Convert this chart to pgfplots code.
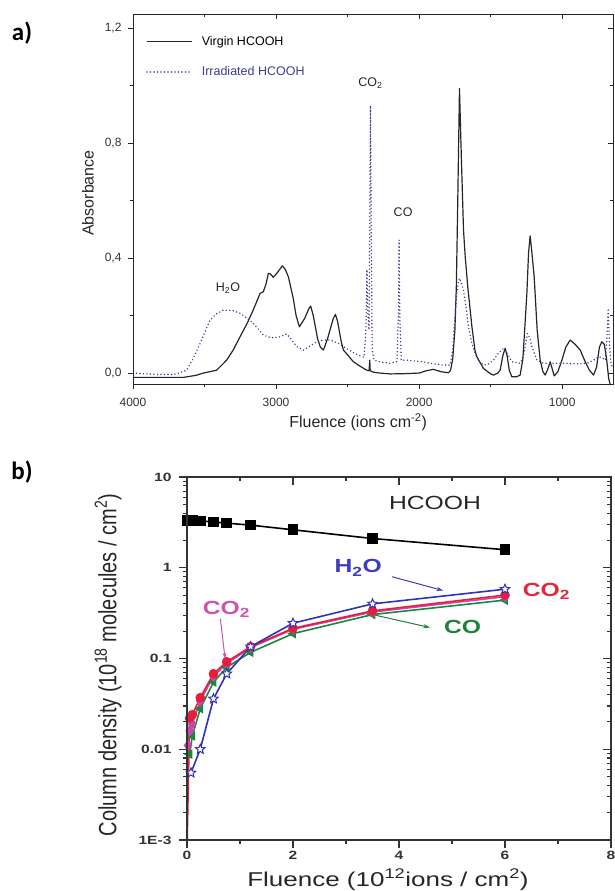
\documentclass[border=0pt]{standalone}
\usepackage{fontspec}
\setmainfont{Liberation Sans}
\newfontfamily\widefont[FakeStretch=1.3]{Liberation Sans}
\newfontfamily\panelfont{Carlito}
\usepackage{pgfplots}
\pgfplotsset{compat=1.18}
\usetikzlibrary{arrows.meta,plotmarks}
\definecolor{irrblue}{RGB}{60,60,150}
\definecolor{hblue}{RGB}{50,50,185}
\definecolor{cred}{RGB}{228,30,60}
\definecolor{cmag}{RGB}{200,70,175}
\definecolor{cgreen}{RGB}{25,135,60}
\definecolor{lblue}{RGB}{60,60,190}
\definecolor{lpink}{RGB}{205,85,175}
\definecolor{lred}{RGB}{225,40,60}
\definecolor{lgreen}{RGB}{30,130,60}

\pgfdeclareplotmark{ostar}{%
  \pgfpathmoveto{\pgfqpointpolar{90}{\pgfplotmarksize}}%
  \pgfpathlineto{\pgfqpointpolar{126}{0.45\pgfplotmarksize}}%
  \pgfpathlineto{\pgfqpointpolar{162}{\pgfplotmarksize}}%
  \pgfpathlineto{\pgfqpointpolar{198}{0.45\pgfplotmarksize}}%
  \pgfpathlineto{\pgfqpointpolar{234}{\pgfplotmarksize}}%
  \pgfpathlineto{\pgfqpointpolar{270}{0.45\pgfplotmarksize}}%
  \pgfpathlineto{\pgfqpointpolar{306}{\pgfplotmarksize}}%
  \pgfpathlineto{\pgfqpointpolar{342}{0.45\pgfplotmarksize}}%
  \pgfpathlineto{\pgfqpointpolar{18}{\pgfplotmarksize}}%
  \pgfpathlineto{\pgfqpointpolar{54}{0.45\pgfplotmarksize}}%
  \pgfpathclose
  \pgfusepathqfillstroke}

\pgfplotsset{
  panelA/.style={scale only axis, width=480pt, height=370pt,
    x dir=reverse, xmin=645, xmax=4000, ymin=-0.038, ymax=1.249,
    xtick={4000,3000,2000,1000}, minor xtick={3500,2500,1500},
    ytick={0,0.4,0.8,1.2}, minor ytick={0.2,0.6,1.0},
    major tick length=5pt, minor tick length=3pt,
    axis line style={line width=0.9pt, black!85},
    every tick/.style={line width=0.9pt, black!85}},
  panelB/.style={scale only axis, width=424pt, height=363pt,
    xmin=0, xmax=8, ymin=1e-3, ymax=10,
    xtick={0,2,4,6,8}, minor xtick={1,3,5,7},
    ytick={1e-3,1e-2,0.1,1,10},
    minor ytick={2e-3,3e-3,4e-3,5e-3,6e-3,7e-3,8e-3,9e-3,2e-2,3e-2,4e-2,5e-2,6e-2,7e-2,8e-2,9e-2,0.2,0.3,0.4,0.5,0.6,0.7,0.8,0.9,2,3,4,5,6,7,8,9},
    major tick length=8pt, minor tick length=4pt,
    axis line style={line width=1.2pt, black!80},
    every tick/.style={line width=1.1pt, black!80}},
}

\begin{document}
\begin{tikzpicture}[x=1pt,y=1pt]
\path[use as bounding box] (0,0) rectangle (614,891);
\node[font=\panelfont\bfseries\fontsize{25}{28}\selectfont] at (22,858) {a)};
\node[font=\panelfont\bfseries\fontsize{25}{28}\selectfont] at (22,419) {b)};

% ---------------- Panel a ----------------
\begin{axis}[panelA, at={(133pt,507pt)}, anchor=south west,
  xtick pos=bottom, ytick pos=left, tick align=outside,
  xticklabels={4000,3000,2000,1000},
  yticklabels={{0,0},{0,4},{0,8},{1,2}},
  tick label style={font=\fontsize{12}{14}\selectfont, text=black!80},
  xticklabel style={yshift=-6pt},
  yticklabel style={xshift=-3pt},
  xlabel={Fluence (ions cm\textsuperscript{-2})},
  ylabel={Absorbance},
  label style={font=\fontsize{16}{18}\selectfont, text=black!85},
  xlabel style={at={(axis description cs:0.469,-0.103)}, anchor=center},
  ylabel style={at={(axis description cs:-0.094,0.516)}, anchor=center},
  legend style={at={(rel axis cs:0,1)}, anchor=north west, xshift=10pt, yshift=-18pt,
    draw=none, fill=none, font=\fontsize{12.5}{15}\selectfont, row sep=16pt,
    /tikz/every odd column/.append style={column sep=7pt}},
  legend cell align=left,
  legend image code/.code={\draw[#1] (0pt,0pt) -- (45pt,0pt);},
]
\addplot[black!85, line width=1.2pt, line join=round, mark=none] coordinates {
(4000,-0.015)(3800,-0.015)(3648,-0.015)(3560,-0.008)(3508,0.0)(3415,0.01)(3345,0.045)(3300,0.08)(3252,0.126)(3200,0.175)(3159,0.22)(3112,0.277)(3089,0.283)(3070,0.31)(3054,0.347)(3040,0.345)(3019,0.333)(2990,0.35)(2956,0.373)(2935,0.36)(2914,0.335)(2880,0.26)(2860,0.2)(2837,0.161)(2800,0.19)(2770,0.225)(2758,0.233)(2740,0.2)(2710,0.12)(2690,0.09)(2669,0.08)(2640,0.12)(2600,0.19)(2585,0.204)(2570,0.18)(2545,0.11)(2529,0.08)(2459,0.039)(2400,0.02)(2366,0.01)(2350,0.008)(2345,0.045)(2342,0.008)(2320,0.003)(2273,0.0)(2200,-0.003)(2100,-0.002)(2000,0.0)(1950,0.008)(1900,0.013)(1850,0.005)(1795,0.001)(1780,0.01)(1765,0.05)(1750,0.15)(1740,0.3)(1730,0.6)(1718,0.99)(1705,0.75)(1690,0.5)(1678,0.405)(1660,0.3)(1631,0.161)(1610,0.08)(1597,0.057)(1550,0.016)(1500,-0.003)(1480,-0.007)(1450,0.0)(1434,0.01)(1415,0.06)(1399,0.086)(1385,0.06)(1370,0.01)(1352,-0.013)(1320,-0.013)(1294,-0.007)(1275,0.05)(1260,0.17)(1247,0.277)(1235,0.42)(1224,0.477)(1212,0.42)(1196,0.335)(1175,0.15)(1154,0.045)(1135,0.005)(1119,-0.007)(1100,0.015)(1084,0.039)(1070,0.015)(1056,-0.01)(1030,0.005)(1002,0.045)(975,0.09)(944,0.115)(910,0.1)(874,0.08)(840,0.04)(810,0.01)(781,-0.007)(760,0.02)(740,0.09)(723,0.109)(706,0.1)(690,0.05)(675,-0.02)(664,-0.04)
};
\addlegendentry{Virgin HCOOH}
\addplot[irrblue, line width=1.6pt, line cap=round, dash pattern=on 0pt off 3.5pt, mark=none] coordinates {
(4000,0.0)(3900,-0.003)(3800,-0.005)(3718,-0.005)(3680,0.0)(3625,0.01)(3580,0.05)(3531,0.103)(3500,0.14)(3462,0.184)(3420,0.205)(3368,0.219)(3300,0.217)(3252,0.208)(3200,0.19)(3159,0.173)(3120,0.15)(3089,0.132)(3050,0.125)(3019,0.123)(2980,0.125)(2925,0.136)(2890,0.115)(2856,0.092)(2809,0.08)(2760,0.095)(2716,0.109)(2670,0.115)(2622,0.115)(2570,0.105)(2529,0.092)(2459,0.071)(2400,0.057)(2385,0.055)(2372,0.15)(2365,0.36)(2358,0.2)(2350,0.15)(2345,0.5)(2340,0.93)(2335,0.5)(2328,0.08)(2315,0.045)(2273,0.039)(2203,0.034)(2155,0.04)(2145,0.2)(2140,0.463)(2135,0.2)(2125,0.045)(2086,0.045)(2030,0.042)(1970,0.039)(1900,0.032)(1830,0.028)(1783,0.028)(1765,0.08)(1755,0.161)(1737,0.277)(1725,0.32)(1718,0.33)(1705,0.315)(1690,0.289)(1670,0.22)(1655,0.161)(1630,0.1)(1608,0.068)(1580,0.04)(1550,0.028)(1520,0.03)(1480,0.045)(1445,0.07)(1410,0.086)(1380,0.065)(1352,0.039)(1294,0.034)(1270,0.06)(1259,0.092)(1242,0.138)(1225,0.12)(1212,0.092)(1177,0.045)(1131,0.034)(1050,0.034)(968,0.034)(900,0.032)(828,0.034)(780,0.045)(746,0.057)(710,0.05)(699,0.045)(688,0.12)(678,0.225)(670,0.1)(660,0.04)(650,0.02)
};
\addlegendentry{\textcolor{irrblue}{Irradiated HCOOH}}
\node[font=\fontsize{12.5}{15}\selectfont, text=black!85] at (axis cs:2340,1.01) {CO\textsubscript{2}};
\node[font=\fontsize{12.5}{15}\selectfont, text=black!85] at (axis cs:2112,0.56) {CO};
\node[font=\fontsize{12.5}{15}\selectfont, text=black!85] at (axis cs:3336,0.296) {H\textsubscript{2}O};
\end{axis}
\begin{axis}[panelA, at={(133pt,507pt)}, anchor=south west,
  xtick pos=top, ytick pos=right, tick align=inside,
  xticklabels={}, yticklabels={}]
\end{axis}

% ---------------- Panel b ----------------
\begin{semilogyaxis}[panelB, at={(187pt,51pt)}, anchor=south west,
  xtick pos=bottom, ytick pos=left, tick align=outside,
  xticklabels={0,2,4,6,8},
  yticklabels={1E-3,0.01,0.1,1,10},
  tick label style={font=\widefont\bfseries\fontsize{12}{14}\selectfont, text=black!80},
  yticklabel style={xshift=-4pt},
  xlabel={\widefont Fluence (10\textsuperscript{12}ions / cm\textsuperscript{2})},
  ylabel={\scalebox{1}[1.25]{Column density (10\textsuperscript{18} molecules / cm\textsuperscript{2})}},
  label style={font=\fontsize{20}{22}\selectfont, text=black!85},
  xlabel style={at={(axis description cs:0.474,-0.110)}, anchor=center},
  ylabel style={at={(axis description cs:-0.186,0.482)}, anchor=center},
  clip=true,
]
\addplot[cgreen, line width=1.6pt, mark=triangle*, mark size=4pt, mark options={rotate=90, solid}] coordinates {
(0.05,0.0088)(0.1,0.014)(0.25,0.028)(0.5,0.055)(0.75,0.08)(1.2,0.117)(2,0.188)(3.5,0.305)(6,0.44)
};
\addplot[cmag, line width=1.6pt, mark=diamond*, mark size=4.5pt] coordinates {
(0.02,0.011)(0.05,0.016)(0.1,0.019)(0.25,0.034)(0.5,0.064)(0.75,0.088)(1.2,0.132)(2,0.21)(3.5,0.325)(6,0.48)
};
\addplot[cred, line width=1.6pt, mark=*, mark size=4pt] coordinates {
(0,0.0008)(0.05,0.022)(0.1,0.024)(0.25,0.037)(0.5,0.068)(0.75,0.092)(1.2,0.135)(2,0.215)(3.5,0.335)(6,0.50)
};
\addplot[hblue, line width=1.6pt, mark=ostar, mark size=5pt, mark options={fill=white, draw=hblue, line width=1pt}] coordinates {
(0.075,0.0055)(0.25,0.01)(0.5,0.036)(0.75,0.068)(1.2,0.135)(2,0.245)(3.5,0.40)(6,0.58)
};
\addplot[black, line width=1.6pt, mark=square*, mark size=4.5pt] coordinates {
(0,3.3)(0.05,3.3)(0.1,3.3)(0.25,3.28)(0.5,3.2)(0.75,3.1)(1.2,2.95)(2,2.62)(3.5,2.1)(6,1.58)
};
\node[font=\widefont\fontsize{19}{22}\selectfont, text=black!85] at (axis cs:4.68,5.18) {HCOOH};
\node[font=\widefont\bfseries\fontsize{19}{22}\selectfont, text=lblue] at (axis cs:3.23,1.0) {H\textsubscript{2}O};
\node[font=\widefont\bfseries\fontsize{19}{22}\selectfont, text=lpink] at (axis cs:0.745,0.345) {CO\textsubscript{2}};
\node[font=\widefont\bfseries\fontsize{19}{22}\selectfont, text=lred] at (axis cs:6.78,0.545) {CO\textsubscript{2}};
\node[font=\widefont\bfseries\fontsize{19}{22}\selectfont, text=lgreen] at (axis cs:5.2,0.225) {CO};
\draw[lblue, line width=1pt, -{Stealth[length=7pt,width=4pt]}] (axis cs:3.87,0.796) -- (axis cs:4.84,0.559);
\draw[lpink, line width=1pt, -{Stealth[length=7pt,width=4pt]}] (axis cs:0.63,0.275) -- (axis cs:0.72,0.0976);
\draw[lgreen, line width=1pt, -{Stealth[length=7pt,width=4pt]}] (axis cs:3.5,0.305) -- (axis cs:4.59,0.219);
\end{semilogyaxis}
\begin{semilogyaxis}[panelB, at={(187pt,51pt)}, anchor=south west,
  xtick pos=top, ytick pos=right, tick align=inside,
  xticklabels={}, yticklabels={}]
\end{semilogyaxis}
\end{tikzpicture}
\end{document}
